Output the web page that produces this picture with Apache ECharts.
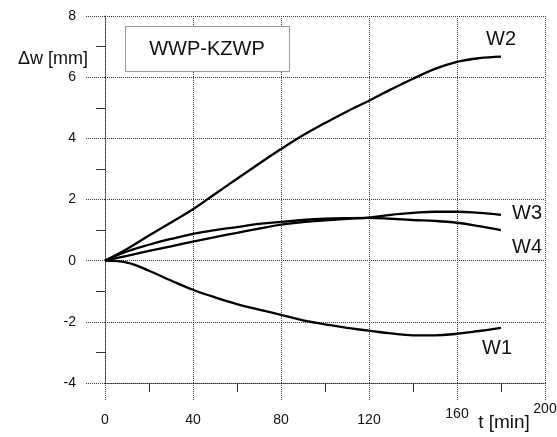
<!DOCTYPE html>
<html>
<head>
<meta charset="utf-8">
<script src="https://cdn.jsdelivr.net/npm/echarts@6/dist/echarts.min.js"></script>
<style>
  html, body { margin: 0; padding: 0; background: #fff; }
  #chart { width: 557px; height: 437px; }
</style>
</head>
<body>
<div id="chart"></div>
<script>
// Time axis [min]
const times = [0, 10, 20, 30, 40, 50, 60, 70, 80, 90, 100, 110, 120, 130, 140, 150, 160, 170, 180];

// Deflection increments Δw [mm]
const w1 = [0, -0.06, -0.33, -0.65, -0.95, -1.2, -1.42, -1.6, -1.77, -1.95, -2.08, -2.2, -2.29, -2.38, -2.44, -2.44, -2.39, -2.3, -2.2];
const w2 = [0, 0.38, 0.82, 1.25, 1.68, 2.18, 2.68, 3.17, 3.65, 4.1, 4.5, 4.88, 5.23, 5.6, 5.95, 6.27, 6.5, 6.62, 6.67];
const w3 = [0, 0.16, 0.32, 0.47, 0.62, 0.77, 0.91, 1.05, 1.18, 1.26, 1.32, 1.37, 1.41, 1.5, 1.56, 1.6, 1.6, 1.56, 1.5];
const w4 = [0, 0.3, 0.52, 0.71, 0.88, 1.0, 1.1, 1.2, 1.27, 1.33, 1.37, 1.39, 1.4, 1.37, 1.33, 1.3, 1.24, 1.13, 1.0];

const seriesNames = ['W1', 'W2', 'W3', 'W4'];
const seriesValues = [w1, w2, w3, w4];

const title = 'WWP-KZWP';
const xName = 't [min]';
const yName = 'Δw [mm]';

const FONT = 'Liberation Sans, Arial, sans-serif';
const gridStyle = { color: '#333', width: 1, type: [1, 1] };

const labelOffsets = {
  W1: [-27, 21],
  W2: [-23, -17],
  W3: [3, -1],
  W4: [3, 17]
};

const chart = echarts.init(document.getElementById('chart'), null, { renderer: 'canvas' });

chart.setOption({
  animation: false,
  backgroundColor: '#fff',
  grid: { left: 105, right: 12, top: 16, bottom: 54, containLabel: false, outerBoundsMode: 'none' },
  xAxis: {
    type: 'value',
    min: 0, max: 200, interval: 40,
    name: xName,
    nameLocation: 'end',
    nameGap: -41,
    nameMoveOverlap: false,
    nameTextStyle: {
      fontFamily: FONT, fontSize: 19, color: '#111',
      align: 'center', verticalAlign: 'top', padding: [30, 0, 0, 0]
    },
    axisLine: { show: true, onZero: false, lineStyle: gridStyle },
    axisTick: { show: true, inside: false, length: 17, lineStyle: gridStyle },
    minorTick: { show: true, splitNumber: 2, length: 9, lineStyle: { color: '#333', width: 1 } },
    splitLine: { show: true, lineStyle: gridStyle },
    axisLabel: {
      margin: 18,
      formatter: function (v) {
        if (v === 160) return '{b|' + v + '}';
        if (v === 200) return '{c|' + v + '}';
        return '{a|' + v + '}';
      },
      rich: {
        a: { fontFamily: FONT, fontSize: 14, color: '#111', padding: [12, 0, 0, 0] },
        b: { fontFamily: FONT, fontSize: 14, color: '#111', padding: [6, 0, 0, 0] },
        c: { fontFamily: FONT, fontSize: 14, color: '#111', padding: [1, 0, 0, 0] }
      }
    }
  },
  yAxis: {
    type: 'value',
    min: -4, max: 8, interval: 2,
    name: yName,
    nameLocation: 'end',
    nameGap: -43,
    nameMoveOverlap: false,
    nameTextStyle: {
      fontFamily: FONT, fontSize: 18, color: '#111',
      align: 'right', verticalAlign: 'middle', padding: [0, 17, 0, 0]
    },
    axisLine: { show: true, onZero: false, lineStyle: gridStyle },
    axisTick: { show: true, inside: false, length: 19, lineStyle: gridStyle },
    minorTick: { show: true, splitNumber: 2, length: 9, lineStyle: { color: '#333', width: 1 } },
    splitLine: { show: true, lineStyle: gridStyle },
    axisLabel: { margin: 29, fontFamily: FONT, fontSize: 14, color: '#111' }
  },
  graphic: [
    {
      type: 'rect',
      shape: { x: 125.5, y: 26.5, width: 164, height: 45 },
      style: { fill: '#fff', stroke: '#333', lineWidth: 1, lineDash: [1, 1] },
      z: 10
    },
    {
      type: 'text',
      x: 207, y: 49,
      style: {
        text: title, fontFamily: FONT, fontSize: 20, fill: '#111',
        align: 'center', verticalAlign: 'middle'
      },
      z: 11
    }
  ],
  series: seriesNames.map(function (name, i) {
    return {
      name: name,
      type: 'line',
      data: times.map(function (t, j) { return [t, seriesValues[i][j]]; }),
      smooth: 0.4,
      showSymbol: false,
      lineStyle: { color: '#000', width: 2.3 },
      endLabel: {
        show: true,
        formatter: '{a}',
        fontFamily: FONT, fontSize: 20, color: '#111',
        offset: labelOffsets[name]
      },
      z: 5
    };
  })
});
</script>
</body>
</html>
